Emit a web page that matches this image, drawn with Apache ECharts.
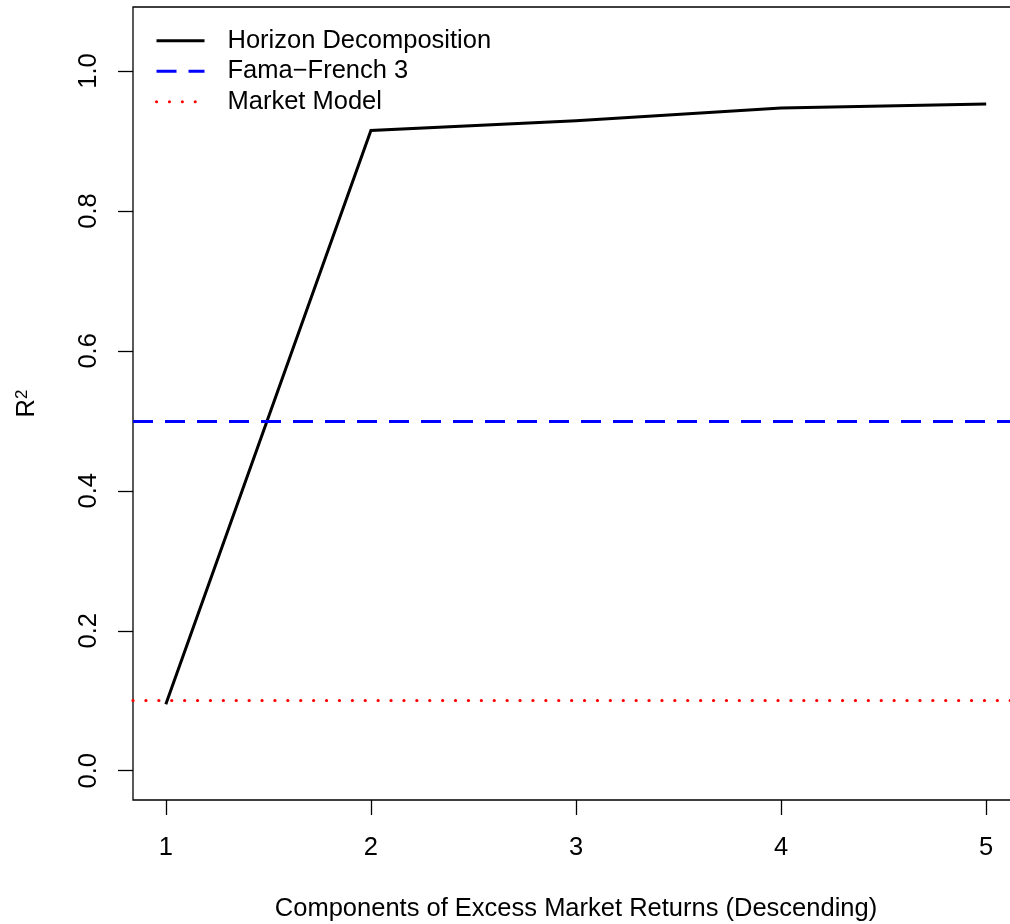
<!DOCTYPE html>
<html>
<head>
<meta charset="utf-8">
<script src="https://cdn.jsdelivr.net/npm/echarts@6/dist/echarts.min.js"></script>
<style>
html,body{margin:0;padding:0;background:#fff;overflow:hidden;}
#chart{width:1010px;height:924px;}
</style>
</head>
<body>
<div id="chart"></div>
<script>
// ---- data ----
var components = [1, 2, 3, 4, 5];
var horizonR2 = [0.095, 0.915, 0.929, 0.947, 0.953];
var famaFrench3R2 = 0.497;
var marketModelR2 = 0.095;
var yTicks = [0, 0.2, 0.4, 0.6, 0.8, 1.0];
var xTicks = [1, 2, 3, 4, 5];
var seriesNames = ['Horizon Decomposition', 'Fama\u2212French 3', 'Market Model'];

var FONT = "'Liberation Sans', Arial, Helvetica, sans-serif";
var FS = 25.5;
var chart = echarts.init(document.getElementById('chart'), null, {renderer: 'canvas'});

var horizonData = components.map(function (c, i) { return [c, horizonR2[i]]; });

var option = {
  animation: false,
  backgroundColor: '#fff',
  textStyle: {fontFamily: FONT},
  grid: {
    left: 133, top: 7, width: 886, bottom: 124,
    outerBoundsMode: 'none',
    containLabel: false,
    show: true, borderColor: '#000', borderWidth: 1.3, backgroundColor: 'transparent'
  },
  legend: {
    orient: 'vertical',
    left: 155, top: 25.5, padding: 0,
    itemWidth: 48, itemHeight: 14, itemGap: 0,
    itemStyle: {opacity: 0},
    lineStyle: {width: 3},
    textStyle: {fontFamily: FONT, fontSize: FS, color: '#000', lineHeight: 30.5, padding: [0, 0, 0, 18]},
    data: seriesNames,
    selectedMode: false
  },
  xAxis: {
    type: 'value',
    min: 0.84, max: 5.16,
    name: 'Components of Excess Market Returns (Descending)',
    nameLocation: 'middle',
    nameGap: 96,
    nameTextStyle: {fontFamily: FONT, fontSize: FS, color: '#000'},
    axisLine: {show: false, onZero: false},
    splitLine: {show: false},
    axisTick: {show: true, inside: false, length: 15, customValues: xTicks, lineStyle: {color: '#000', width: 1.3}},
    axisLabel: {show: true, margin: 35, customValues: xTicks, fontFamily: FONT, fontSize: FS, color: '#000',
      formatter: function (v) { return String(v); }}
  },
  yAxis: {
    type: 'value',
    min: -0.0419, max: 1.0915,
    name: '{r|R}{s|2}',
    nameLocation: 'middle',
    nameRotate: 90,
    nameGap: 93,
    nameTextStyle: {
      fontFamily: FONT, color: '#000',
      rich: {
        r: {fontFamily: FONT, fontSize: FS, color: '#000', verticalAlign: 'bottom', lineHeight: 26},
        s: {fontFamily: FONT, fontSize: 17, color: '#000', verticalAlign: 'top', padding: [0, 0, 14, 0], lineHeight: 26}
      }
    },
    axisLine: {show: false, onZero: false},
    splitLine: {show: false},
    axisTick: {show: true, inside: false, length: 15, customValues: yTicks, lineStyle: {color: '#000', width: 1.3}},
    axisLabel: {show: true, rotate: 90, margin: 31, customValues: yTicks, fontFamily: FONT, fontSize: FS, color: '#000',
      formatter: function (v) { return v.toFixed(1); }}
  },
  series: [
    {
      name: seriesNames[0],
      type: 'line',
      data: horizonData,
      symbol: 'none',
      lineStyle: {color: '#000', width: 3, join: 'miter'},
      itemStyle: {color: '#000'},
      emphasis: {disabled: true},
      silent: true,
      z: 3
    },
    {
      name: seriesNames[1],
      type: 'line',
      data: [],
      symbol: 'none',
      lineStyle: {color: '#0000ff', width: 3, type: [20, 12]},
      itemStyle: {color: '#0000ff'},
      silent: true,
      markLine: {
        silent: true, symbol: 'none', animation: false,
        label: {show: false},
        emphasis: {disabled: true},
        lineStyle: {color: '#0000ff', width: 3, type: [20, 12]},
        data: [{yAxis: famaFrench3R2}]
      },
      z: 2
    },
    {
      name: seriesNames[2],
      type: 'line',
      data: [],
      symbol: 'none',
      lineStyle: {color: '#ff0000', width: 3.2, type: [0.1, 12.8], cap: 'round'},
      itemStyle: {color: '#ff0000'},
      silent: true,
      markLine: {
        silent: true, symbol: 'none', animation: false,
        label: {show: false},
        emphasis: {disabled: true},
        lineStyle: {color: '#ff0000', width: 3.2, type: [0.1, 12.8], cap: 'round'},
        data: [{yAxis: marketModelR2}]
      },
      z: 2
    }
  ]
};
chart.setOption(option);
</script>
</body>
</html>
